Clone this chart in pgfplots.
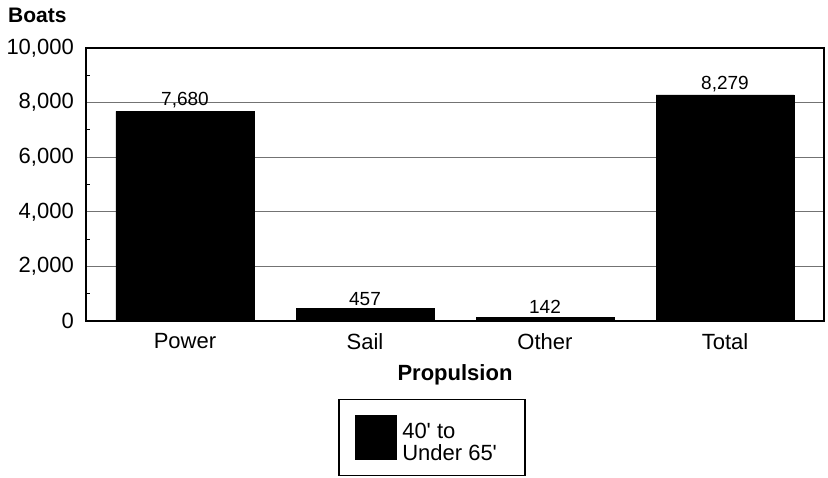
\documentclass[border=0pt]{standalone}
\usepackage{pgfplots}
\pgfplotsset{compat=1.18}
\usepackage{fontspec}
\setmainfont{Liberation Sans}
\begin{document}
\begin{tikzpicture}
\begin{axis}[
  name=ax,
  scale only axis,
  width=738bp, height=273bp,
  xmin=-0.55, xmax=3.55,
  ymin=0, ymax=10000,
  xtick={0,1,2,3},
  xticklabels={Power,Sail,Other,Total},
  ytick={0,2000,4000,6000,8000,10000},
  minor y tick num=1,
  scaled y ticks=false,
  /pgf/number format/.cd, 1000 sep={,}, assume math mode=true,
  /pgfplots/.cd,
  ymajorgrids,
  major grid style={draw=black!55, line width=0.8bp},
  axis line style={line width=1.5bp},
  major tick length=0pt,
  minor tick length=4bp,
  tick align=inside,
  ytick pos=left,
  xtick style={draw=none},
  every tick/.style={black, line width=0.8bp},
  yticklabel style={inner sep=0pt, xshift=-12bp, font=\fontsize{22bp}{24bp}\selectfont},
  xticklabel style={inner sep=0pt, yshift=-12bp, font=\fontsize{22bp}{24bp}\selectfont},
  legend style={at={(0.3415,-0.2857)}, anchor=north west, draw=black, line width=1.5bp,
    inner xsep=16bp, inner ysep=15bp, font=\fontsize{22bp}{20bp}\selectfont,
    nodes={inner sep=0pt}},
  legend image code/.code={\fill[black] (0bp,-22bp) rectangle (41bp,22bp);},
]
\addplot[ybar, bar width=138bp, fill=black, draw=black,
  nodes near coords,
  nodes near coords style={font=\fontsize{19bp}{21bp}\selectfont, inner sep=0pt, yshift=3bp, anchor=south,
    /pgf/number format/.cd, 1000 sep={,}, assume math mode=true}]
  coordinates {(0,7680) (1,457) (2,142) (3,8279)};
\addlegendentry{\begin{tabular}{@{\hspace{5bp}}l@{\hspace{12bp}}}40\textquotesingle{} to\\Under 65\textquotesingle\end{tabular}}
\end{axis}
\node[anchor=base west, font=\bfseries\fontsize{21bp}{24bp}\selectfont, inner sep=0pt]
  at ([xshift=-78bp, yshift=25bp]ax.north west) {Boats};
\node[anchor=base, font=\bfseries\fontsize{22bp}{24bp}\selectfont, inner sep=0pt]
  at ([yshift=-59bp]ax.south) {Propulsion};
\pgfresetboundingbox
\path ([xshift=-86bp, yshift=48bp]ax.north west) rectangle ([xshift=4bp, yshift=-157bp]ax.south east);
\end{tikzpicture}
\end{document}
